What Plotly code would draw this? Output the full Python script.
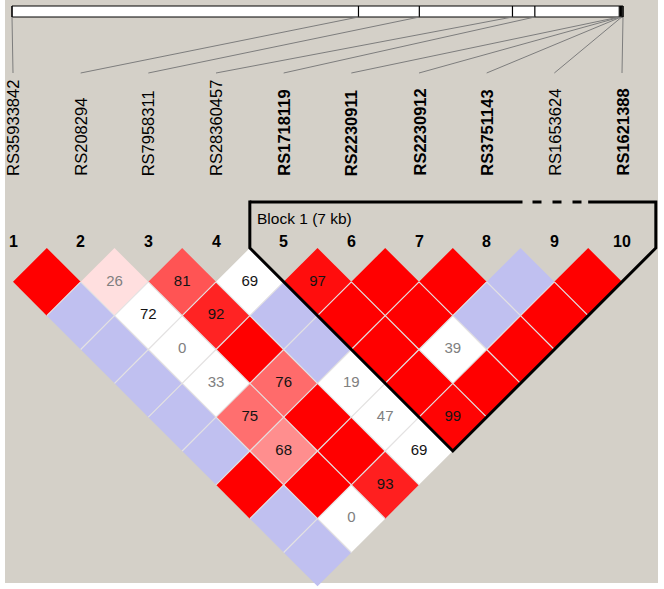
import plotly.graph_objects as go

# ---------------- data ----------------
snp_ids = ["RS35933842", "RS208294", "RS7958311", "RS28360457", "RS1718119",
           "RS2230911", "RS2230912", "RS3751143", "RS1653624", "RS1621388"]
snp_numbers = [str(k) for k in range(1, 11)]
snp_pos_kb = [0.0, 27.9, 32.8, 40.3, 42.1, 48.9, 49.0, 49.05, 49.1, 49.2]

block_label = "Block 1 (7 kb)"
block_first, block_last = 5, 10
block_tag_snps = [5, 6, 7, 8, 10]      # tag SNPs shown in bold
block_dashed_snps = [9]                 # SNP outside the block haplotype (dashed)

# pairwise D' x100, row k = SNP k vs SNP k+1..10
dprime = [
    [100, 100, 100, 100, 100, 100, 100, 100, 100],
    [26, 72, 0, 33, 75, 68, 100, 0],
    [81, 92, 100, 76, 100, 100, 93],
    [69, 100, 100, 19, 47, 69],
    [97, 100, 100, 100, 99],
    [100, 100, 39, 100],
    [100, 100, 100],
    [100, 100],
    [100],
]
# LOD >= 2 (strong evidence) flags, same layout
strong = [
    [1, 0, 0, 0, 0, 0, 1, 0, 0],
    [1, 0, 0, 0, 1, 1, 1, 0],
    [1, 1, 1, 1, 1, 1, 1],
    [0, 0, 0, 0, 0, 0],
    [1, 1, 1, 1, 1],
    [1, 1, 0, 1],
    [1, 0, 1],
    [0, 1],
    [1],
]
muted_pairs = [(2, 3), (2, 5), (2, 6), (2, 10), (4, 8), (4, 9), (6, 9)]

# ---------------- geometry ----------------
W, H = 664, 589
X0, X10 = 13.0, 622.0
DX = (X10 - X0) / 9.0
HH = DX / 2.0
Y_TOP = 248.0
BAR_L, BAR_R, BAR_T, BAR_B = 12.0, 623.0, 6.0, 17.0
LINE_END = 73.0
LABEL_BOTTOM = 178.0
NUM_Y = 241.0
BLOCK_TOP = 202.0
FONT = "Liberation Sans, Arial, sans-serif"


def sx(i):
    return X0 + (i - 1) * DX


def cell_center(i, j):
    return (sx(i) + sx(j)) / 2.0, Y_TOP + (j - i) * HH


def map_x(kb):
    return BAR_L + kb / snp_pos_kb[-1] * (BAR_R - BAR_L)


def cell_color(d, s):
    if s:
        if d >= 100:
            return "rgb(255,0,0)"
        g = int(min(446 * (1 - d / 100.0), 223))
        return f"rgb(255,{g},{g})"
    if d >= 100:
        return "rgb(192,192,240)"
    return "rgb(255,255,255)"


fig = go.Figure()

# cells
tx, ty, tt, tc = [], [], [], []
sep_x, sep_y = [], []
for a, row in enumerate(dprime):
    i = a + 1
    for b, d in enumerate(row):
        j = i + 1 + b
        s = strong[a][b]
        cx, cy = cell_center(i, j)
        xs = [cx - HH, cx, cx + HH, cx, cx - HH]
        ys = [cy, cy - HH, cy, cy + HH, cy]
        fig.add_trace(go.Scatter(x=xs, y=ys, mode="lines", fill="toself",
                                 fillcolor=cell_color(d, s),
                                 line=dict(width=0, color=cell_color(d, s)),
                                 hoverinfo="skip", showlegend=False))
        # interior separators (lower edges shared with neighbours)
        if j + 1 <= 10:
            sep_x += [cx, cx + HH, None]
            sep_y += [cy + HH, cy, None]
        if i - 1 >= 1:
            sep_x += [cx, cx - HH, None]
            sep_y += [cy + HH, cy, None]
        if d < 100:
            tx.append(cx)
            ty.append(cy)
            tt.append(str(d))
            tc.append("rgb(128,128,128)" if (i, j) in muted_pairs else "rgb(20,20,20)")

fig.add_trace(go.Scatter(x=sep_x, y=sep_y, mode="lines",
                         line=dict(color="rgb(228,226,226)", width=1.2),
                         hoverinfo="skip", showlegend=False))
fig.add_trace(go.Scatter(x=tx, y=ty, mode="text", text=tt,
                         textfont=dict(family=FONT, size=15, color=tc),
                         hoverinfo="skip", showlegend=False))

shapes = []
# background panel
shapes.append(dict(type="rect", xref="x", yref="y", x0=5, x1=658, y0=0, y1=583,
                   fillcolor="rgb(212,208,200)", line=dict(width=0), layer="below"))
# map bar
shapes.append(dict(type="rect", xref="x", yref="y", x0=BAR_L, x1=BAR_R, y0=BAR_T, y1=BAR_B,
                   fillcolor="white", line=dict(color="black", width=1)))
for k, kb in enumerate(snp_pos_kb):
    mx = map_x(kb)
    shapes.append(dict(type="line", xref="x", yref="y", x0=mx, x1=mx, y0=BAR_T, y1=BAR_B,
                       line=dict(color="black", width=1.2)))
    shapes.append(dict(type="line", xref="x", yref="y", x0=mx, x1=sx(k + 1),
                       y0=BAR_B, y1=LINE_END, line=dict(color="rgb(125,125,125)", width=1)))

# block outline
bl = sx(block_first) - HH
br = sx(block_last) + HH
bx_bottom, by_bottom = cell_center(block_first, block_last)
by_bottom += HH
outline = dict(color="black", width=3)
dash_l = sx(block_dashed_snps[0]) - HH + 2
dash_r = sx(block_dashed_snps[0]) + HH
shapes.append(dict(type="line", xref="x", yref="y", x0=bl, x1=dash_l, y0=BLOCK_TOP, y1=BLOCK_TOP, line=outline))
shapes.append(dict(type="line", xref="x", yref="y", x0=dash_l + 10, x1=dash_r - 6, y0=BLOCK_TOP, y1=BLOCK_TOP,
                   line=dict(color="black", width=3, dash="9px,11px")))
shapes.append(dict(type="path", xref="x", yref="y",
                   path=f"M {dash_r} {BLOCK_TOP} L {br} {BLOCK_TOP} L {br} {Y_TOP} "
                        f"L {bx_bottom} {by_bottom} L {bl} {Y_TOP} L {bl} {BLOCK_TOP - 1.5}",
                   line=outline))

annotations = []
for k, (name, num) in enumerate(zip(snp_ids, snp_numbers)):
    i = k + 1
    bold = i in block_tag_snps
    annotations.append(dict(x=sx(i), y=LABEL_BOTTOM, xref="x", yref="y",
                            text=f"<b>{name}</b>" if bold else name,
                            textangle=-90, showarrow=False, xanchor="center", yanchor="bottom",
                            font=dict(family=FONT, size=16.5, color="black")))
    annotations.append(dict(x=sx(i), y=NUM_Y, xref="x", yref="y", text=f"<b>{num}</b>",
                            showarrow=False, xanchor="center", yanchor="middle",
                            font=dict(family=FONT, size=16, color="black")))
annotations.append(dict(x=bl + 5, y=218, xref="x", yref="y", text=block_label,
                        showarrow=False, xanchor="left", yanchor="middle",
                        font=dict(family=FONT, size=15.5, color="black")))

fig.update_layout(
    width=W, height=H, margin=dict(l=0, r=0, t=0, b=0),
    paper_bgcolor="white", plot_bgcolor="rgba(0,0,0,0)",
    xaxis=dict(range=[0, W], visible=False, fixedrange=True),
    yaxis=dict(range=[H, 0], visible=False, fixedrange=True),
    shapes=shapes, annotations=annotations, showlegend=False,
)
fig.write_html("out.html", config={"displayModeBar": False},
               post_script="document.body.style.margin='0';document.body.style.overflow='hidden';")
